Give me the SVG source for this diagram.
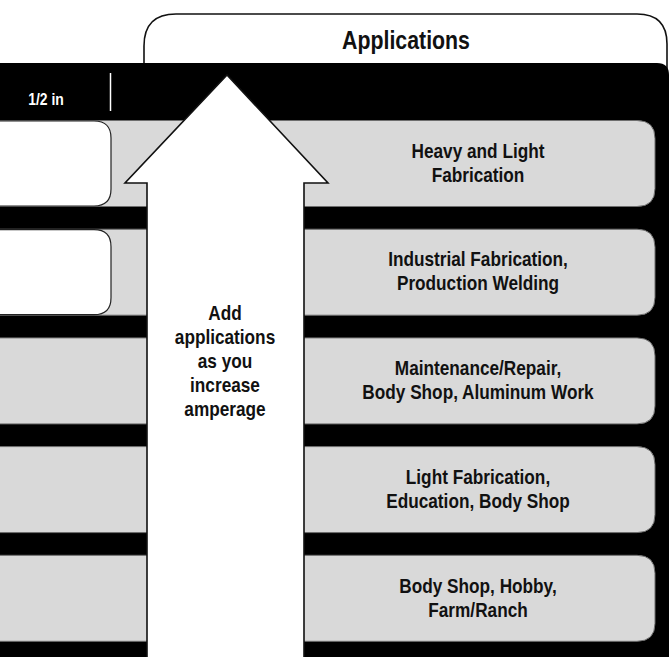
<svg xmlns="http://www.w3.org/2000/svg" width="669" height="657" viewBox="0 0 669 657">
  <style>
    .t { font-family: "Liberation Sans", Arial, sans-serif; font-weight: bold; fill: #111; text-anchor: middle; }
    .row { fill: #d9d9d9; stroke: #6e6e6e; stroke-width: 1; }
    .lbox { fill: #ffffff; stroke: #222; stroke-width: 1.2; }
    .rt { font-size: 21px; }
  </style>
  <rect width="669" height="657" fill="#ffffff"/>
  <g id="applications-header">
    <path d="M144,70 V46 Q144,14 176,14 H637 Q667,14 667,44 V70" fill="#ffffff" stroke="#111" stroke-width="1.6"/>
    <g transform="translate(406 0) scale(0.82 1)"><text class="t" x="0" y="49" font-size="26">Applications</text></g>
  </g>
  <g id="table-background">
    <path d="M0,63 H657 Q669,63 669,75 V657 H0 Z" fill="#000000"/>
    <g transform="translate(46 0) scale(0.82 1)"><text class="t" x="0" y="105" font-size="17" style="fill:#ffffff">1/2 in</text></g>
    <line x1="110.5" y1="73" x2="110.5" y2="111" stroke="#ffffff" stroke-width="1.5"/>
  </g>
  <g id="row1">
    <path class="row" d="M-2,120.5 H637 Q655,120.5 655,138.5 V188.5 Q655,206.5 637,206.5 H-2 Z"/>
    <path class="lbox" d="M-2,121 H94 Q111,121 111,138 V189 Q111,206 94,206 H-2 Z"/>
    <g transform="translate(478 0) scale(0.82 1)">
      <text class="t rt" x="0" y="158">Heavy and Light</text>
      <text class="t rt" x="0" y="182">Fabrication</text>
    </g>
  </g>
  <g id="row2">
    <path class="row" d="M-2,229.2 H637 Q655,229.2 655,247.2 V297.2 Q655,315.2 637,315.2 H-2 Z"/>
    <path class="lbox" d="M-2,229.7 H94 Q111,229.7 111,246.7 V297.7 Q111,314.7 94,314.7 H-2 Z"/>
    <g transform="translate(478 0) scale(0.82 1)">
      <text class="t rt" x="0" y="266.5">Industrial Fabrication,</text>
      <text class="t rt" x="0" y="290.5">Production Welding</text>
    </g>
  </g>
  <g id="row3">
    <path class="row" d="M-2,337.9 H637 Q655,337.9 655,355.9 V405.9 Q655,423.9 637,423.9 H-2 Z"/>
    <g transform="translate(478 0) scale(0.82 1)">
      <text class="t rt" x="0" y="375">Maintenance/Repair,</text>
      <text class="t rt" x="0" y="399">Body Shop, Aluminum Work</text>
    </g>
  </g>
  <g id="row4">
    <path class="row" d="M-2,446.6 H637 Q655,446.6 655,464.6 V514.6 Q655,532.6 637,532.6 H-2 Z"/>
    <g transform="translate(478 0) scale(0.82 1)">
      <text class="t rt" x="0" y="484">Light Fabrication,</text>
      <text class="t rt" x="0" y="508">Education, Body Shop</text>
    </g>
  </g>
  <g id="row5">
    <path class="row" d="M-2,555.3 H637 Q655,555.3 655,573.3 V623.3 Q655,641.3 637,641.3 H-2 Z"/>
    <g transform="translate(478 0) scale(0.82 1)">
      <text class="t rt" x="0" y="593">Body Shop, Hobby,</text>
      <text class="t rt" x="0" y="617">Farm/Ranch</text>
    </g>
  </g>
  <g id="arrow">
    <path d="M147,660 V183 H125 L227,75 L328,183 H304 V660" fill="#ffffff" stroke="#111" stroke-width="1.6" stroke-linejoin="miter"/>
    <g transform="translate(225 0) scale(0.82 1)">
      <text class="t" font-size="21" x="0" y="320">Add</text>
      <text class="t" font-size="21" x="0" y="344">applications</text>
      <text class="t" font-size="21" x="0" y="368">as you</text>
      <text class="t" font-size="21" x="0" y="392">increase</text>
      <text class="t" font-size="21" x="0" y="416">amperage</text>
    </g>
  </g>
</svg>
